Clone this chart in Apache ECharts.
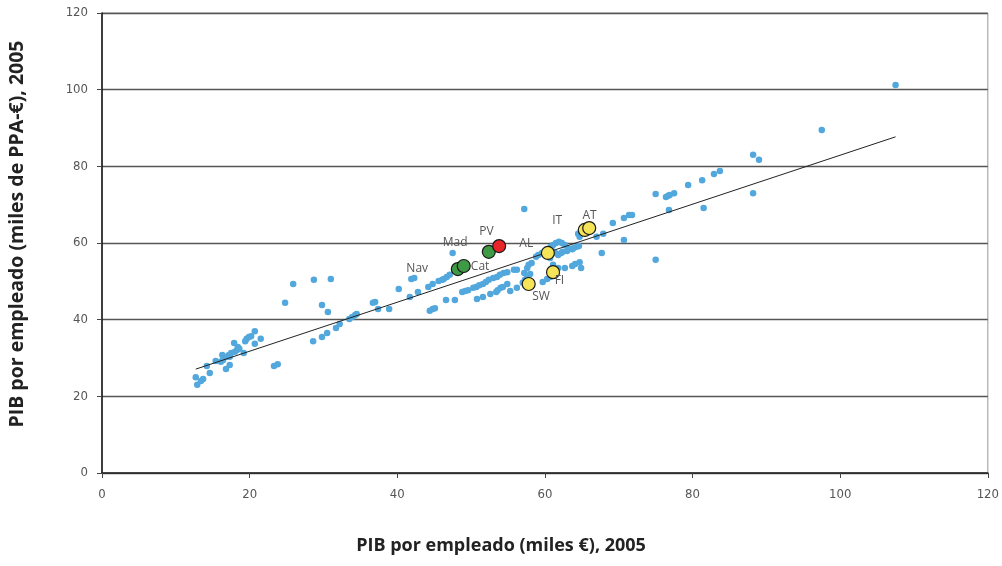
<!DOCTYPE html>
<html>
<head>
<meta charset="utf-8">
<script src="https://cdn.jsdelivr.net/npm/echarts@6/dist/echarts.min.js"></script>
<style>
html,body{margin:0;padding:0;background:#fff;}
#chart{width:1002px;height:566px;}
</style>
</head>
<body>
<div id="chart"></div>
<script>
// Regions (blue dots): x = PIB por empleado (miles €), y = PIB por empleado (miles de PPA-€)
const regionX = [12.7,13.7,13.4,12.9,14.2,14.6,15.4,16.1,16.4,16.3,16.8,17.3,16.9,17.3,17.2,17.5,18.0,18.3,18.6,18.4,17.9,19.2,19.4,19.6,19.9,20.2,20.7,20.7,21.5,23.3,23.8,24.8,25.9,28.7,31.0,29.8,30.6,28.6,29.8,30.5,31.7,32.2,33.5,33.9,34.3,34.5,36.7,37.0,37.4,38.9,40.2,41.7,42.8,41.9,42.3,44.2,44.8,45.6,46.1,46.3,46.7,47.1,44.4,44.8,45.1,46.6,47.8,47.5,57.2,
48.8,49.2,49.6,50.3,50.7,51.1,51.6,52.0,52.4,53.0,53.5,53.9,54.4,54.9,55.8,56.2,57.2,57.6,57.8,58.2,58.8,59.1,59.6,60.0,60.8,61.1,61.5,61.9,62.3,62.7,63.1,63.7,63.9,64.3,64.6,64.5,64.7,67.0,67.9,69.2,70.7,71.4,71.8,70.7,67.7,75.0,75.0,76.4,76.7,76.9,77.5,76.8,79.4,81.3,81.5,82.9,83.7,88.2,89.0,88.2,97.5,107.5,
50.8,51.6,52.6,53.4,53.6,54.0,54.3,54.9,55.3,56.2,57.0,57.3,57.6,58.0,59.7,60.3,60.7,61.1,61.8,62.7,63.7,64.1,64.7,64.9,60.7,60.9,61.4,61.8,62.2,62.4,63.0];
const regionY = [25.0,24.5,24.0,23.0,27.9,26.1,29.2,29.0,29.5,30.8,27.1,28.2,30.3,30.3,30.8,31.3,31.6,32.1,32.4,32.9,33.9,31.3,34.4,35.0,35.5,35.7,37.0,33.7,35.0,27.9,28.4,44.4,49.3,50.4,50.6,43.8,42.0,34.4,35.5,36.5,37.8,38.9,40.2,40.7,41.2,41.5,44.4,44.6,42.8,42.8,48.0,45.9,47.2,50.6,50.9,48.5,49.3,50.1,50.4,50.6,51.1,51.7,42.3,42.8,43.0,45.1,45.1,57.4,68.9,
47.2,47.5,47.7,48.3,48.5,49.0,49.3,49.8,50.4,50.9,51.1,51.7,52.2,52.4,53.0,53.0,52.2,53.5,54.3,54.8,56.4,56.9,57.4,57.9,59.0,59.5,60.0,60.3,60.0,59.5,58.7,58.4,58.7,59.0,59.2,62.4,61.6,61.6,62.4,65.2,66.5,67.3,67.3,60.8,57.4,55.6,72.8,72.0,72.3,72.5,73.0,68.6,75.1,76.4,69.1,78.0,78.8,83.0,81.7,73.0,89.5,101.2,
45.4,45.9,46.7,47.2,47.7,48.3,48.5,49.3,47.5,48.3,49.6,50.4,51.1,51.9,49.8,50.6,51.1,54.3,53.5,53.5,54.0,54.5,55.0,53.5,56.1,58.2,57.4,56.9,57.4,57.7,57.9];

// Spanish regions highlighted in green
const spainNames = ["Nav","Cat","Mad"];
const spainX = [48.2,49.0,52.4];
const spainY = [53.2,54.0,57.7];

// País Vasco (red)
const pvNames = ["PV"];
const pvX = [53.8];
const pvY = [59.2];

// Countries (yellow)
const countryNames = ["AL","IT","AT","FI","SW"];
const countryX = [60.4,65.4,66.0,61.1,57.8];
const countryY = [57.4,63.4,63.9,52.4,49.3];

// Trend line end points
const trendX = [12.7,107.5];
const trendY = [27.1,87.7];

const axisTicks = [0,20,40,60,80,100,120];
const xTitle = "PIB por empleado (miles €), 2005";
const yTitle = "PIB por empleado (miles de PPA-€), 2005";

// label offsets (pixels from symbol centre) – styling only
const labelOffsets = {
  Nav:[-40,0], Cat:[17,1], Mad:[-33,-9], PV:[-12,-14],
  AL:[-21,-9], IT:[-27,-9], AT:[1,-12], FI:[7,9], SW:[13,13]
};
const HS = 13;

function zip(xs, ys, names){
  return xs.map((x,i)=> names ? {name:names[i], value:[x, ys[i]]} : [x, ys[i]]);
}
function hlSeries(xs, ys, names, color){
  return {
    type:'scatter', symbolSize:HS, z:5,
    itemStyle:{color:color, borderColor:'#1a1a1a', borderWidth:1.2, opacity:1},
    data: zip(xs, ys, names).map(d=>{
      const o = labelOffsets[d.name];
      return Object.assign(d, {label:{show:true, formatter:d.name,
        position:[HS/2 + o[0], HS/2 + o[1]], align:'center', verticalAlign:'middle'}});
    }),
    label:{color:'#555', fontSize:12, fontFamily:"'Open Sans', sans-serif"},
    emphasis:{disabled:true}
  };
}

const labelFont = "'Liberation Sans Narrow','DejaVu Sans Condensed',sans-serif";
const chart = echarts.init(document.getElementById('chart'), null, {renderer:'canvas'});
chart.setOption({
  animation:false,
  backgroundColor:'#fff',
  grid:{left:102, right:14, top:13, bottom:93, show:true, borderColor:'#999', borderWidth:1, backgroundColor:'transparent'},
  xAxis:{
    type:'value', min:axisTicks[0], max:axisTicks[axisTicks.length-1], interval:20,
    axisLine:{show:true, onZero:false, lineStyle:{color:'#222', width:1.5}},
    axisTick:{show:true, length:5, lineStyle:{color:'#444'}},
    axisLabel:{color:'#555', fontSize:13, margin:15, fontFamily:labelFont},
    splitLine:{show:false}
  },
  yAxis:{
    type:'value', min:axisTicks[0], max:axisTicks[axisTicks.length-1], interval:20,
    axisLine:{show:true, onZero:false, lineStyle:{color:'#111', width:1.5}},
    axisTick:{show:true, length:5, lineStyle:{color:'#444'}},
    axisLabel:{color:'#555', fontSize:13, margin:14, fontFamily:labelFont},
    splitLine:{show:true, lineStyle:{color:'#555', width:1.3}}
  },
  graphic:[
    {type:'text', left:'center', top:537, style:{text:xTitle, fill:'#222', font:"bold 18px 'Open Sans', sans-serif"}},
    {type:'text', x:7, y:234, rotation:Math.PI/2, style:{text:yTitle, fill:'#222', font:"bold 19.5px 'Open Sans', sans-serif", align:'center', verticalAlign:'top'}}
  ],
  series:[
    {type:'scatter', symbolSize:6.5, z:2, itemStyle:{color:'#52A8DC', opacity:1},
     data: zip(regionX, regionY), emphasis:{disabled:true}},
    {type:'line', z:3, symbol:'none', lineStyle:{color:'#222', width:1},
     data: zip(trendX, trendY), emphasis:{disabled:true}},
    hlSeries(spainX, spainY, spainNames, '#3E9A44'),
    hlSeries(pvX, pvY, pvNames, '#E8262A'),
    hlSeries(countryX, countryY, countryNames, '#F6E458')
  ]
});
</script>
</body>
</html>
